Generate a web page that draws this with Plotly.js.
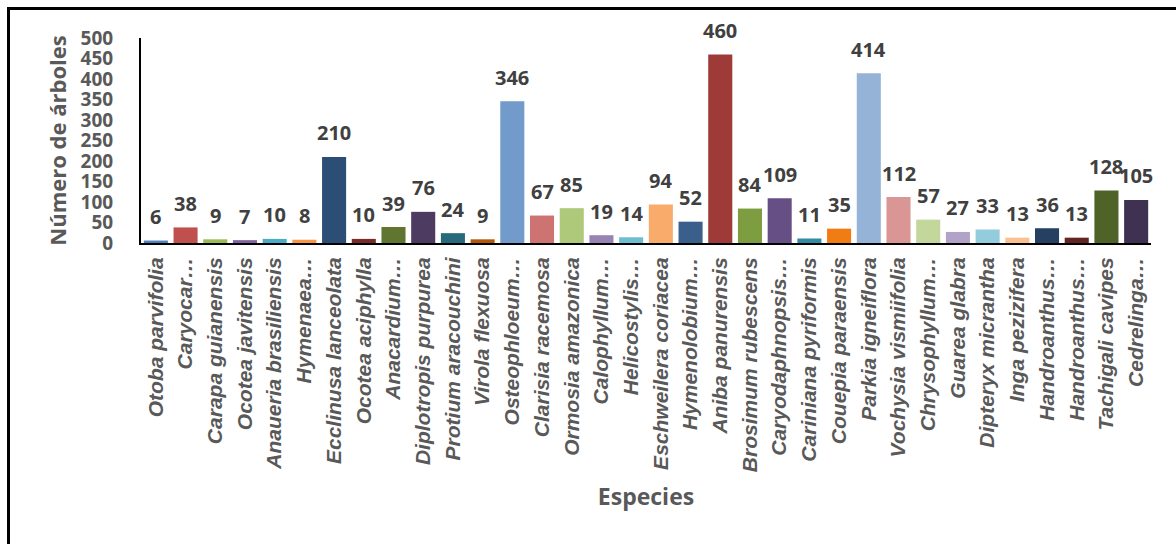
<!DOCTYPE html>
<html>
<head>
<meta charset="utf-8">
<script src="https://cdn.plot.ly/plotly-3.0.1.min.js"></script>
<style>
  html, body { margin: 0; padding: 0; background: #fff; }
  #wrap { position: relative; width: 1176px; height: 544px; overflow: hidden; }
  #chart { position: absolute; left: 0; top: 0; width: 1176px; height: 544px; }
  #frame { position: absolute; left: 7px; top: 7px; width: 1200px; height: 600px;
           border-left: 3px solid #000; border-top: 3px solid #000; pointer-events: none; }
</style>
</head>
<body>
<div id="wrap">
  <div id="chart"></div>
  <div id="frame"></div>
</div>
<script>
const species = [
  "Otoba parvifolia", "Caryocar…", "Carapa guianensis", "Ocotea javitensis",
  "Anaueria brasiliensis", "Hymenaea…", "Ecclinusa lanceolata", "Ocotea aciphylla",
  "Anacardium…", "Diplotropis purpurea", "Protium aracouchini", "Virola flexuosa",
  "Osteophloeum…", "Clarisia racemosa", "Ormosia amazonica", "Calophyllum…",
  "Helicostylis…", "Eschweilera coriacea", "Hymenolobium…", "Aniba panurensis",
  "Brosimum rubescens", "Caryodaphnopsis…", "Cariniana pyriformis", "Couepia paraensis",
  "Parkia igneiflora", "Vochysia vismiifolia", "Chrysophyllum…", "Guarea glabra",
  "Dipteryx micrantha", "Inga pezizifera", "Handroanthus…", "Handroanthus…",
  "Tachigali cavipes", "Cedrelinga…"
];
const trees = [
  6, 38, 9, 7, 10, 8, 210, 10, 39, 76, 24, 9,
  346, 67, 85, 19, 14, 94, 52, 460, 84, 109, 11, 35,
  414, 112, 57, 27, 33, 13, 36, 13, 128, 105
];
const barColors = [
  "#4F81BD", "#C0504D", "#9BBB59", "#8064A2", "#4BACC6", "#F79646",
  "#2C4D75", "#772C2A", "#5F7530", "#4D3B62", "#276A7C", "#B65708",
  "#729ACA", "#CD7371", "#AFC97A", "#9983B5", "#6FBDD1", "#F9AB6B",
  "#3A5F8B", "#9E3A38", "#7E9D40", "#664F85", "#338BA2", "#F07C13",
  "#95B3D7", "#D99694", "#C3D69B", "#B3A2C7", "#93CDDD", "#FAC090",
  "#254061", "#632523", "#4F6228", "#3F3151"
];
const yTicks = [0, 50, 100, 150, 200, 250, 300, 350, 400, 450, 500];

const idx = species.map((_, i) => i);
const FONT = "'Open Sans', 'Noto Sans', sans-serif";
const TICKFONT = "'Liberation Sans', Arial, sans-serif";

const trace = {
  type: "bar",
  x: idx,
  y: trees,
  marker: { color: barColors, line: { width: 0 } },
  width: 0.81,
  hoverinfo: "x+y"
};

const annotations = idx.map(i => ({
  x: i, y: trees[i], xref: "x", yref: "y",
  text: String(trees[i]), showarrow: false,
  yanchor: "middle", yshift: 24,
  font: { family: FONT, size: 20, color: "#404040", weight: "bold" }
}));

const layout = {
  width: 1176, height: 544,
  margin: { l: 141, r: 25, t: 38, b: 301 },
  paper_bgcolor: "rgba(0,0,0,0)", plot_bgcolor: "rgba(0,0,0,0)",
  showlegend: false,
  bargap: 0.19,
  xaxis: {
    range: [-0.5, species.length - 0.5],
    tickmode: "array", tickvals: idx, ticktext: species,
    tickangle: -90, ticks: "outside", ticklen: 4, tickcolor: "rgba(0,0,0,0)",
    showgrid: false, zeroline: false,
    showline: true, linecolor: "#000", linewidth: 2,
    tickfont: { family: TICKFONT, size: 21, color: "#595959", style: "italic", weight: "bold" },
    title: { text: "Especies", standoff: 18,
             font: { family: FONT, size: 23, color: "#595959", weight: "bold" } },
    automargin: false, fixedrange: true
  },
  yaxis: {
    range: [0, 500],
    tickmode: "array", tickvals: yTicks, ticktext: yTicks.map(String),
    ticks: "outside", ticklen: 22, tickcolor: "rgba(0,0,0,0)",
    showgrid: false, zeroline: false,
    showline: true, linecolor: "#000", linewidth: 2,
    tickfont: { family: FONT, size: 19, color: "#595959", weight: "bold" },
    title: { text: "Número de árboles", standoff: 8,
             font: { family: FONT, size: 22, color: "#595959", weight: "bold" } },
    automargin: false, fixedrange: true
  },
  annotations: annotations
};

Plotly.newPlot("chart", [trace], layout, { displayModeBar: false, staticPlot: true });
</script>
</body>
</html>
